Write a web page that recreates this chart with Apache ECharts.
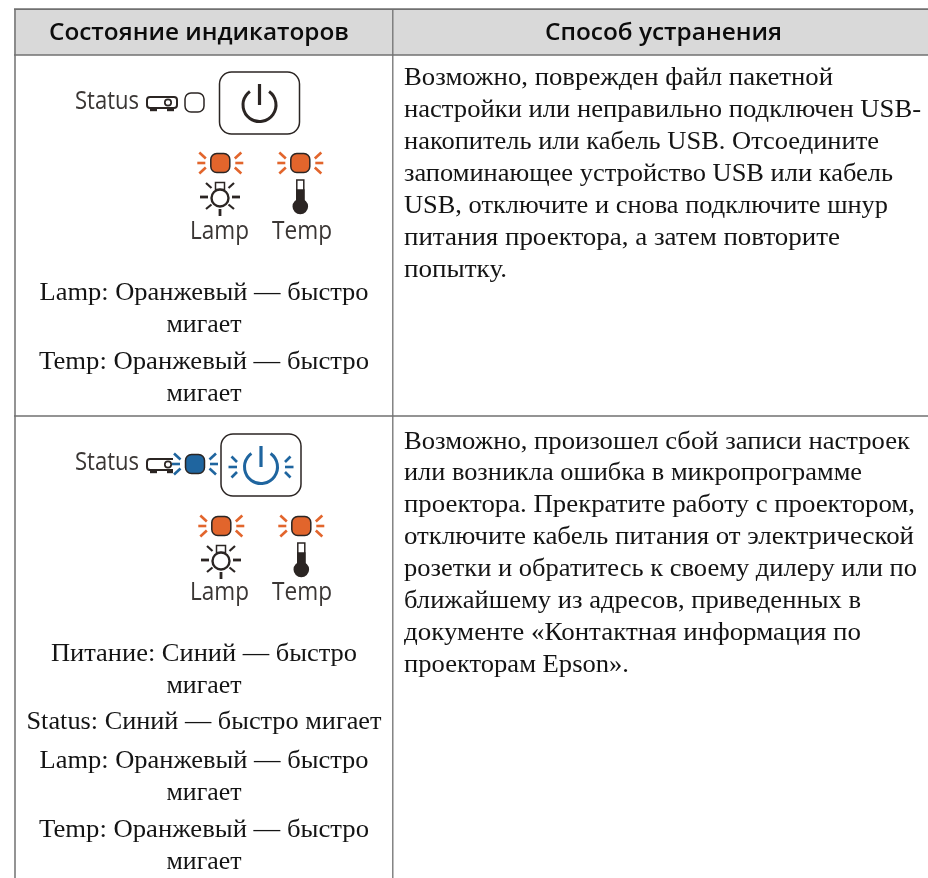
<!DOCTYPE html>
<html><head><meta charset="utf-8">
<style>html,body{margin:0;padding:0;background:#fff}#c{width:928px;height:878px}</style>
<script src="https://cdn.jsdelivr.net/npm/echarts@6/dist/echarts.min.js"></script>
</head><body><div id="c"></div>
<script>
const headers = ['Состояние индикаторов', 'Способ устранения'];
const row1Status = ['Lamp: Оранжевый — быстро', 'мигает', 'Temp: Оранжевый — быстро', 'мигает'];
const row2Status = ['Питание: Синий — быстро', 'мигает', 'Status: Синий — быстро мигает', 'Lamp: Оранжевый — быстро', 'мигает', 'Temp: Оранжевый — быстро', 'мигает'];
const row1Fix = ['Возможно, поврежден файл пакетной', 'настройки или неправильно подключен USB-', 'накопитель или кабель USB. Отсоедините', 'запоминающее устройство USB или кабель', 'USB, отключите и снова подключите шнур', 'питания проектора, а затем повторите', 'попытку.'];
const row2Fix = ['Возможно, произошел сбой записи настроек', 'или возникла ошибка в микропрограмме', 'проектора. Прекратите работу с проектором,', 'отключите кабель питания от электрической', 'розетки и обратитесь к своему дилеру или по', 'ближайшему из адресов, приведенных в', 'документе «Контактная информация по', 'проекторам Epson».'];

// layout of the text lines (vertical centre, rendered width)
const row1StatusY = [293, 325, 362, 394];
const row2StatusY = [654, 686, 722, 761, 793, 830, 862];
const row1FixY = [78, 110, 142, 174, 206, 238, 270];
const row2FixY = [442, 473, 505, 537, 569, 601, 633, 665];
const row1StatusW = [329, 75, 330, 75];
const row2StatusW = [306, 75, 355, 329, 75, 330, 75];
const row1FixW = [429, 517, 475, 489, 484, 436, 103];
const row2FixW = [506, 458, 511, 510, 513, 457, 457, 225];

const DARK = '#2b2523', ORANGE = '#e2652c', BLUE = '#1f659f', LINE = '#707070';
const BODY = '"Liberation Serif","Noto Serif",serif';
const SANS = '"Open Sans","Noto Sans",sans-serif';
const measure = document.createElement('canvas').getContext('2d');
const els = [];
function rect(x, y, w, h, fill, stroke, lw, r) {
  els.push({type:'rect', shape:{x, y, width:w, height:h, r:r||0}, style:{fill:fill||'transparent', stroke:stroke||null, lineWidth:lw||0}});
}
function line(x1, y1, x2, y2, color, lw) {
  els.push({type:'line', shape:{x1, y1, x2, y2}, style:{stroke:color, lineWidth:lw}});
}
function text(s, x, y, font, size, align, color, weight, width) {
  const f = (weight||'normal')+' '+size+'px '+font;
  let scaleX = 1;
  if (width) { measure.font = f; scaleX = width / measure.measureText(s).width; }
  els.push({type:'text', x, y, scaleX, style:{text:s, font:f, fill:color||'#141414', textAlign:align||'left', textVerticalAlign:'middle'}});
}
function rays(cx, cy, color) {
  [-1, 1].forEach(s => {
    line(cx+s*15, cy, cx+s*23, cy, color, 2.6);
    line(cx+s*14.5, cy-4.5, cx+s*21, cy-10.5, color, 2.6);
    line(cx+s*14.5, cy+4.5, cx+s*21, cy+10.5, color, 2.6);
  });
}
function led(cx, cy, fill, hasRays) {
  rect(cx-9.5, cy-9.5, 19, 19, fill, DARK, 1.5, 6);
  if (hasRays) rays(cx, cy, fill);
}
function lampIcon(cx, cy) {
  rect(cx-4.5, cy-14.5, 9, 7, '#fff', DARK, 1.5);
  els.push({type:'circle', shape:{cx, cy:cy+1, r:8.5}, style:{fill:'#fff', stroke:DARK, lineWidth:2.4}});
  line(cx-20, cy, cx-12, cy, DARK, 2.8);
  line(cx+12, cy, cx+20, cy, DARK, 2.8);
  line(cx, cy+12, cx, cy+19, DARK, 2.8);
  line(cx-14, cy+12, cx-8.5, cy+7.5, DARK, 2.2);
  line(cx+14, cy+12, cx+8.5, cy+7.5, DARK, 2.2);
  line(cx-14, cy-14, cx-8.5, cy-9, DARK, 2.2);
  line(cx+14, cy-14, cx+8.5, cy-9, DARK, 2.2);
}
function thermIcon(cx, cy) {
  rect(cx-3.2, cy-17, 7, 24, '#fff', DARK, 1.5);
  rect(cx-3.2, cy-7, 7, 14, DARK, DARK, 1.5);
  els.push({type:'circle', shape:{cx:cx+0.3, cy:cy+9.5, r:7.8}, style:{fill:DARK}});
}
function projector(x, y) {
  rect(x, y+1, 30, 11, '#fff', DARK, 2, 3);
  els.push({type:'circle', shape:{cx:x+21, cy:y+6.5, r:3.2}, style:{fill:'#fff', stroke:DARK, lineWidth:1.7}});
  rect(x+3, y+13, 7, 2.2, DARK);
  rect(x+20, y+13, 7, 2.2, DARK);
}
function powerButton(x, y, color, blinking) {
  rect(x, y, 80, 62, '#fff', DARK, 1.5, 12);
  const cx = x+40, cy = y+33;
  els.push({type:'arc', shape:{cx, cy, r:16.5, startAngle:-Math.PI/2+0.62, endAngle:-Math.PI/2-0.62+Math.PI*2, clockwise:true}, style:{stroke:color, lineWidth:3, fill:null}});
  line(cx, y+12, cx, y+33, color, 3.2);
  if (blinking) {
    [-1, 1].forEach(s => {
      line(cx+s*24, cy, cx+s*32.5, cy, color, 2.6);
      line(cx+s*24, cy-5, cx+s*29.5, cy-10.5, color, 2.6);
      line(cx+s*24, cy+5, cx+s*29.5, cy+10.5, color, 2.6);
    });
  }
}
// header & grid
rect(14, 9, 914, 46, '#d9d9d9');
line(14, 9.2, 928, 9.2, LINE, 1.8);
line(14, 55, 928, 55, LINE, 1.4);
line(15, 9, 15, 878, LINE, 1.5);
line(392.8, 9, 392.8, 878, LINE, 1.3);
line(14, 416, 928, 416, LINE, 1.4);
text(headers[0], 199, 33, SANS, 24, 'center', '#0c0c0c', 600, 300);
text(headers[1], 663.5, 33, SANS, 24, 'center', '#0c0c0c', 600, 237);
// row 1 icons
const LABEL = '#3a3634';
text('Status', 75, 102, SANS, 25, 'left', LABEL, 400, 64);
projector(147, 96);
led(194.5, 102.5, '#fff', false);
powerButton(219.5, 72, DARK, false);
led(220.3, 163, ORANGE, true);
led(300.3, 163, ORANGE, true);
lampIcon(220, 197);
thermIcon(300, 197);
text('Lamp', 219.5, 232, SANS, 25, 'center', LABEL, 400, 59);
text('Temp', 302, 232, SANS, 25, 'center', LABEL, 400, 60);
// row 2 icons
text('Status', 75, 463, SANS, 25, 'left', LABEL, 400, 64);
projector(147, 458);
rect(173, 450, 9, 30, '#fff');
led(195, 464, BLUE, true);
powerButton(221, 434, BLUE, true);
led(221.3, 526, ORANGE, true);
led(301.3, 526, ORANGE, true);
lampIcon(221, 560);
thermIcon(301, 560);
text('Lamp', 219.5, 593, SANS, 25, 'center', LABEL, 400, 59);
text('Temp', 302, 593, SANS, 25, 'center', LABEL, 400, 60);
// text
row1Status.forEach((s, i) => text(s, 204, row1StatusY[i], BODY, 25, 'center', null, null, row1StatusW[i]));
row2Status.forEach((s, i) => text(s, 204, row2StatusY[i], BODY, 25, 'center', null, null, row2StatusW[i]));
row1Fix.forEach((s, i) => text(s, 404, row1FixY[i], BODY, 25, 'left', null, null, row1FixW[i]));
row2Fix.forEach((s, i) => text(s, 404, row2FixY[i], BODY, 25, 'left', null, null, row2FixW[i]));

const chart = echarts.init(document.getElementById('c'), null, {renderer:'canvas'});
chart.setOption({animation:false, backgroundColor:'#fff', graphic:{elements:els.map(e => Object.assign({silent:true}, e))}});
</script></body></html>
